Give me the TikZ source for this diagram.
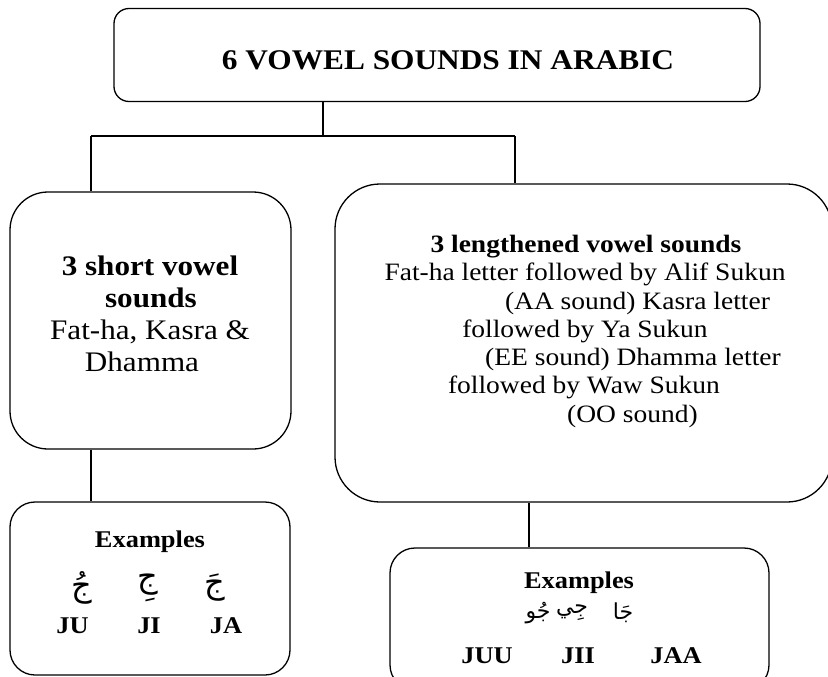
\documentclass[tikz,border=0pt]{standalone}
\usepackage{fontspec}
\setmainfont{Liberation Serif}[FakeStretch=1.1]
\newfontfamily\arabicfont[Script=Arabic]{DejaVu Sans}
\TeXXeTstate=1
\begin{document}
\begin{tikzpicture}[x=1pt,y=-1pt,
  box/.style={draw, line width=1.3pt, inner sep=0pt, rectangle},
  txt/.style={inner sep=0pt, anchor=base},
  arab/.style={inner sep=0pt, anchor=center, font=\arabicfont\fontsize{#1}{#1}\selectfont},
  link/.style={line width=1.3pt}]
\useasboundingbox (0,0) rectangle (828,677);
\clip (0,0) rectangle (828,677);

% boxes
\node[box, rounded corners=15pt, minimum width=646pt, minimum height=93pt] (top) at (437,55) {};
\node[box, rounded corners=38pt, minimum width=281pt, minimum height=257pt] (short) at (150.5,320.5) {};
\node[box, rounded corners=45pt, minimum width=497pt, minimum height=318pt] (long) at (583.5,343) {};
\node[box, rounded corners=25pt, minimum width=280pt, minimum height=173pt] (exshort) at (150,588.5) {};
\node[box, rounded corners=25pt, minimum width=379pt, minimum height=142pt] (exlong) at (579.5,619) {};

% connectors
\coordinate (j) at (323,136);
\coordinate (hl) at (91,136);
\coordinate (hr) at (515,136);
\coordinate (sx) at (91,0);
\coordinate (lx) at (529,0);
\draw[link] (top.south -| j) -- (j);
\draw[link] (hl) -- (hr);
\draw[link] (hl) -- (hl |- short.north);
\draw[link] (hr) -- (hr |- long.north);
\draw[link] (short.south -| sx) -- (exshort.north -| sx);
\draw[link] (long.south -| lx) -- (exlong.north -| lx);

% title
\node[txt, font=\bfseries\fontsize{28.5}{30}\selectfont] (title) at (448,70) {6 VOWEL SOUNDS IN ARABIC};

% short vowels
\begin{scope}[every node/.append style={font=\fontsize{28.3}{32}\selectfont}]
\node[txt] (s1) at (150,275) {\bfseries 3 short vowel};
\node[txt] (s2) at (151,307) {\bfseries sounds};
\node[txt] (s3) at (150,339) {Fat-ha, Kasra \&};
\node[txt] (s4) at (142,371) {Dhamma};
\end{scope}

% lengthened vowels
\begin{scope}[every node/.append style={font=\fontsize{25}{28}\selectfont}]
\node[txt] (l1) at (586,252) {\bfseries 3 lengthened vowel sounds};
\node[txt] (l2) at (585,280) {Fat-ha letter followed by Alif Sukun};
\node[txt] (l3) at (637.5,309) {(AA sound) Kasra letter};
\node[txt] (l4) at (585,337) {followed by Ya Sukun};
\node[txt] (l5) at (633,365) {(EE sound) Dhamma letter};
\node[txt] (l6) at (584,393) {followed by Waw Sukun};
\node[txt] (l7) at (632.5,422) {(OO sound)};
\end{scope}

% short examples
\begin{scope}[every node/.append style={font=\bfseries\fontsize{24}{26}\selectfont}]
\node[txt] (e1) at (150,547) {Examples};
\node[txt] (ju) at (72.5,633) {JU};
\node[txt] (ji) at (149,633) {JI};
\node[txt] (ja) at (226,633) {JA};
\end{scope}
\node[arab=32] (aju) at (82,588) {\beginR جُ\endR};
\node[arab=32] (aji) at (148,588) {\beginR جِ\endR};
\node[arab=32] (aja) at (215,588) {\beginR جَ\endR};

% long examples
\begin{scope}[every node/.append style={font=\bfseries\fontsize{24}{26}\selectfont}]
\node[txt] (e2) at (579,588) {Examples};
\node[txt] (juu) at (487,663) {JUU};
\node[txt] (jii) at (578,663) {JII};
\node[txt] (jaa) at (676,663) {JAA};
\end{scope}
\node[arab=22] (ajuu) at (538,613) {\beginR جُو\endR};
\node[arab=22] (ajii) at (572,613) {\beginR جِي\endR};
\node[arab=22] (ajaa) at (623,613) {\beginR جَا\endR};
\end{tikzpicture}
\end{document}
